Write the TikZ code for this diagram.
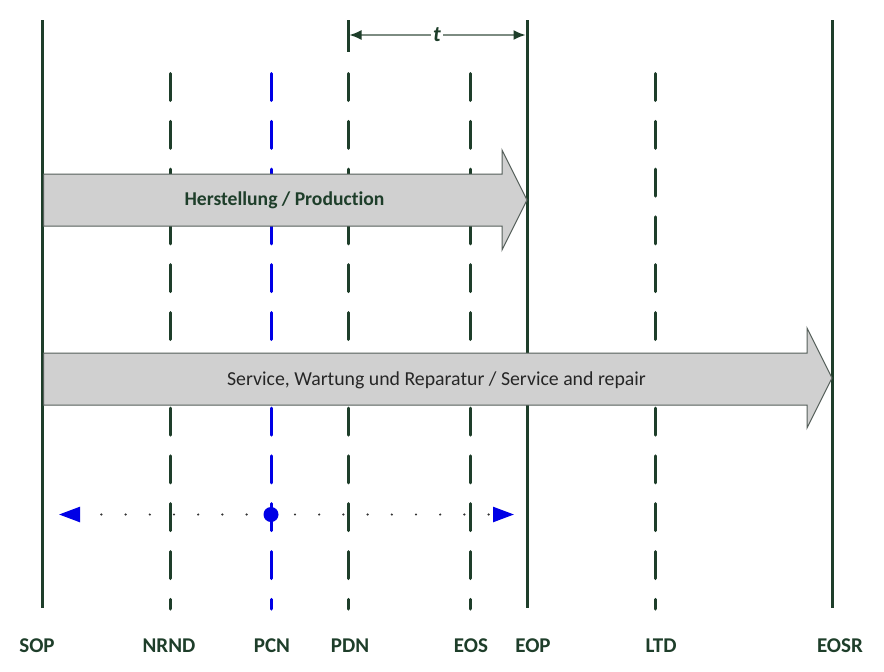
\documentclass[tikz,border=0pt]{standalone}
\usepackage{fontspec}
\setmainfont{Carlito}[Ligatures=NoCommon]
\usetikzlibrary{arrows.meta}
\definecolor{dkg}{RGB}{30,62,42}
\definecolor{bl}{RGB}{0,0,230}
\definecolor{arrfill}{RGB}{208,208,208}
\definecolor{arredge}{RGB}{85,95,90}
\definecolor{tline}{RGB}{125,140,130}
\definecolor{dotc}{RGB}{50,50,50}
\begin{document}
\begin{tikzpicture}[x=1pt,y=-1pt,
  solidline/.style={draw=dkg,line width=3pt},
  dashline/.style={draw=dkg,line width=3pt,line cap=round,dash pattern=on 27pt off 20.8pt},
  bluedash/.style={dashline,draw=bl},
  bigarrow/.style={fill=arrfill,draw=arredge,line width=1pt},
  lbl/.style={font=\bfseries\fontsize{21}{24}\selectfont,text=dkg,inner sep=0pt},
  arrtext/.style={inner sep=0pt},
  tarr/.style={draw=tline,line width=1.5pt,{Latex[length=12pt,width=10pt,color=dkg]}-{Latex[length=12pt,width=10pt,color=dkg]}},
  dotline/.style={draw=dotc,line width=2.4pt,line cap=round,dash pattern=on 0pt off 24.2pt,dash phase=2.2pt,
    {Triangle[length=21pt,width=15pt,color=bl]}-{Triangle[length=21pt,width=15pt,color=bl]}}
]
\useasboundingbox (0,0) rectangle (884,672);
\fill[white] (0,0) rectangle (884,672);

% coordinates of the vertical lines
\coordinate (sopT) at (42,20);   \coordinate (sopB) at (42,608);
\coordinate (nrndT) at (170,73.5); \coordinate (nrndB) at (170,609);
\coordinate (pcnT) at (271,73.5);  \coordinate (pcnB) at (271,609);
\coordinate (pdnT) at (348,73.5);  \coordinate (pdnB) at (348,609);
\coordinate (eosT) at (470,73.5);  \coordinate (eosB) at (470,609);
\coordinate (eopT) at (527,20);  \coordinate (eopB) at (527,608);
\coordinate (ltdT) at (655,73.5);  \coordinate (ltdB) at (655,609);
\coordinate (eosrT) at (832,20); \coordinate (eosrB) at (832,608);

% dashed milestone lines
\draw[dashline] (nrndT) -- (nrndB);
\draw[bluedash] (pcnT) -- (pcnB);
\draw[dashline] (pdnT) -- (pdnB);
\draw[dashline] (eosT) -- (eosB);
\draw[dashline] (ltdT) -- (ltdB);

% solid lines
\draw[solidline] (sopT) -- (sopB);
\draw[solidline] (eopT) -- (eopB);
\draw[solidline] (eosrT) -- (eosrB);

% big arrows
\draw[bigarrow] (43.5,174) -- (502,174) -- (502,150) -- (527,200) -- (502,250) -- (502,226) -- (43.5,226) -- cycle;
\node[arrtext,font=\bfseries\fontsize{19.6}{22}\selectfont,text=dkg] (prod) at (284.5,200) {Herstellung / Production};
\draw[bigarrow] (43.5,353) -- (807,353) -- (807,328) -- (832,378) -- (807,428) -- (807,405) -- (43.5,405) -- cycle;
\node[arrtext,font=\fontsize{19.8}{22}\selectfont,text={black!85}] (serv) at (436.5,380) {Service, Wartung und Reparatur / Service and repair};

% t interval
\coordinate (pdnTickT) at (348,20);
\coordinate (pdnTickB) at (348,52);
\draw[solidline] (pdnTickT) -- (pdnTickB);
\coordinate (tL) at (349.5,35);
\coordinate (tR) at (525.5,35);
\draw[tarr] (tL) -- (tR);
\node[fill=white,inner sep=2pt,font=\bfseries\itshape\fontsize{22}{24}\selectfont,text=dkg] (tlab) at (437,35) {t};

% dotted PCN range
\coordinate (dL) at (59,514.5);
\coordinate (dR) at (514,514.5);
\draw[dotline] (dL) -- (dR);
\node[circle,fill=bl,minimum size=15pt,inner sep=0pt] (pcnDot) at (271,514.5) {};

% labels
\node[lbl] (sopL) at (37,646) {SOP};
\node[lbl] (nrndL) at (169,646) {NRND};
\node[lbl] (pcnL) at (272,646) {PCN};
\node[lbl] (pdnL) at (350,646) {PDN};
\node[lbl] (eosL) at (471,646) {EOS};
\node[lbl] (eopL) at (533,646) {EOP};
\node[lbl] (ltdL) at (661,646) {LTD};
\node[lbl] (eosrL) at (840,646) {EOSR};
\end{tikzpicture}
\end{document}
